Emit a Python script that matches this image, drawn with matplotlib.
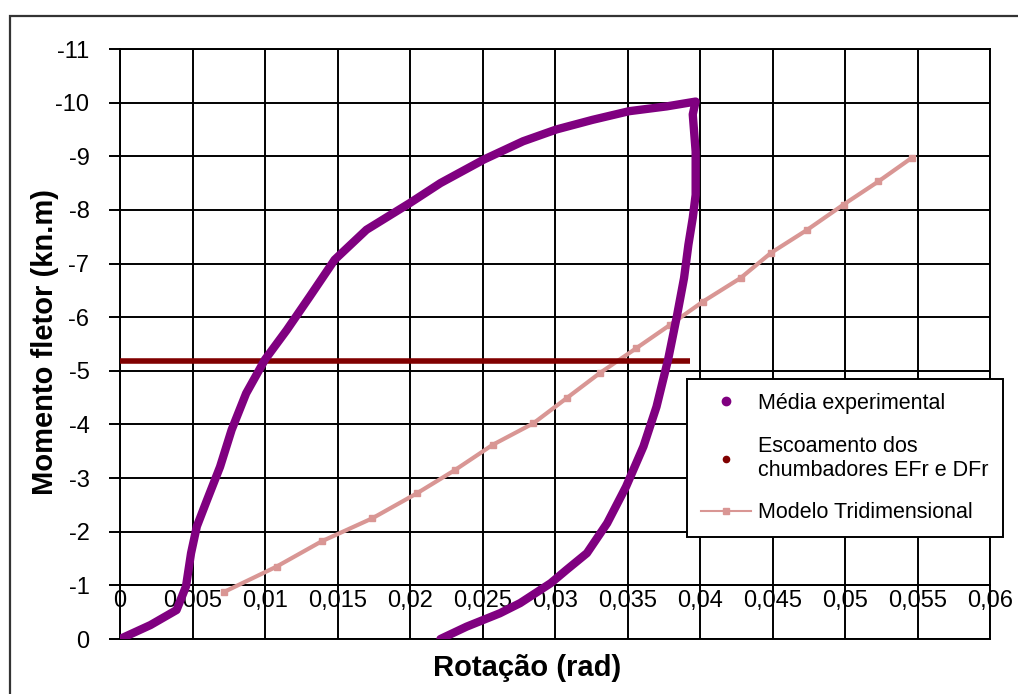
import matplotlib
matplotlib.use('Agg')
import matplotlib.pyplot as plt
from matplotlib.lines import Line2D
from matplotlib.patches import Rectangle
from matplotlib.ticker import FuncFormatter
import numpy as np

plt.rcParams['font.family'] = ['Liberation Sans', 'DejaVu Sans']

# experimental mean curve (loading branch then unloading branch)
rot_exp = [0.0, 0.0021, 0.0039, 0.00455, 0.0049, 0.0053, 0.0060, 0.0069, 0.0077,
           0.0087, 0.0100, 0.0115, 0.0131, 0.0148, 0.0170, 0.0200, 0.0221, 0.0251,
           0.0278, 0.0301, 0.0326, 0.0351, 0.0377, 0.0397,
           0.0395, 0.0397, 0.0397, 0.0395, 0.0392, 0.0389, 0.0384, 0.0378, 0.0370,
           0.0361, 0.0349, 0.0336, 0.0322, 0.0308, 0.0297, 0.0276, 0.0262, 0.0239,
           0.0221]
mom_exp = [0.0, -0.26, -0.54, -0.98, -1.60, -2.10, -2.59, -3.21, -3.90,
           -4.58, -5.21, -5.76, -6.39, -7.07, -7.63, -8.13, -8.50, -8.94,
           -9.28, -9.50, -9.68, -9.84, -9.93, -10.02,
           -9.78, -9.09, -8.28, -7.85, -7.35, -6.73, -6.01, -5.21, -4.33,
           -3.59, -2.84, -2.16, -1.60, -1.29, -1.04, -0.67, -0.48, -0.23,
           0.0]

# anchor bolt yield moment
rot_yield = [0.0, 0.0393]
mom_yield = [-5.18, -5.18]

# 3D numerical model
rot_mod = [0.0072, 0.0108, 0.0139, 0.0174, 0.0205, 0.0231, 0.0257, 0.0285, 0.0308,
           0.0331, 0.0356, 0.0379, 0.0402, 0.0428, 0.0449, 0.0474, 0.0499, 0.0523,
           0.0546]
mom_mod = [-0.88, -1.35, -1.82, -2.25, -2.72, -3.15, -3.62, -4.02, -4.49,
           -4.96, -5.42, -5.85, -6.29, -6.73, -7.20, -7.63, -8.10, -8.53,
           -8.97]

xticks = np.arange(0, 0.0601, 0.005)
yticks = np.arange(-11, 1, 1)

purple = '#800080'
darkred = '#800000'
pink = '#D99694'

fig = plt.figure(figsize=(10.18, 6.94), dpi=100)
W, H = 1018, 694
ax = fig.add_axes([120 / W, 1 - 639 / H, 870 / W, 590 / H])

ax.plot(rot_exp, mom_exp, color=purple, lw=6, solid_capstyle='round',
        solid_joinstyle='round', zorder=5)
ax.plot(rot_yield, mom_yield, color=darkred, lw=4, solid_capstyle='butt', zorder=4)
ax.plot(rot_mod, mom_mod, color=pink, lw=3, marker='s', ms=5, zorder=3)

ax.set_xlim(0, 0.06)
ax.set_ylim(0, -11)
ax.set_xticks(xticks)
ax.set_yticks(yticks)
ax.xaxis.set_major_formatter(FuncFormatter(
    lambda v, p: ('%g' % round(v, 4)).replace('.', ',')))
ax.yaxis.set_major_formatter(FuncFormatter(lambda v, p: '%d' % round(v)))

ax.grid(True, color='black', lw=1.4, zorder=1)
ax.set_axisbelow(True)
for s in ax.spines.values():
    s.set_color('black')
    s.set_linewidth(1.4)
ax.spines['bottom'].set_position(('data', -1))
ax.axhline(0, color='black', lw=1.4, clip_on=False, zorder=1)

ax.tick_params(axis='y', direction='out', length=8, width=1.4, pad=14, labelsize=17)
ax.tick_params(axis='x', direction='out', length=0, pad=3, labelsize=17)

fig.text(45 / W, 1 - 342 / H, 'Momento fletor (kn.m)', rotation=90, ha='center',
         va='center', fontsize=21, fontweight='bold')
fig.text(527 / W, 1 - 668 / H, 'Rotação (rad)', ha='center', va='center',
         fontsize=21, fontweight='bold')

handles = [
    Line2D([], [], color=purple, marker='o', ls='none', ms=6),
    Line2D([], [], color=darkred, marker='o', ls='none', ms=4.5),
    Line2D([], [], color=pink, marker='s', lw=1.5, ms=4),
]
labels = ['Média experimental', 'Escoamento dos\nchumbadores EFr e DFr',
          'Modelo Tridimensional']
leg = ax.legend(handles, labels, loc='upper left',
                bbox_to_anchor=(687 / W, 1 - 379 / H), bbox_transform=fig.transFigure,
                borderaxespad=0, fontsize=15.5, frameon=True, fancybox=False,
                handlelength=2.3, handletextpad=0.35, labelspacing=1.0,
                borderpad=0.65, framealpha=1)
leg.get_frame().set_edgecolor('black')
leg.get_frame().set_linewidth(1.4)
leg.set_zorder(10)

# chart area border
fig.patches.append(Rectangle((10 / W, -0.1), 1.2, 1 - 16 / H + 0.1,
                             transform=fig.transFigure, fill=False,
                             edgecolor='#333333', lw=1.6))

fig.savefig('out.png', dpi=100)
